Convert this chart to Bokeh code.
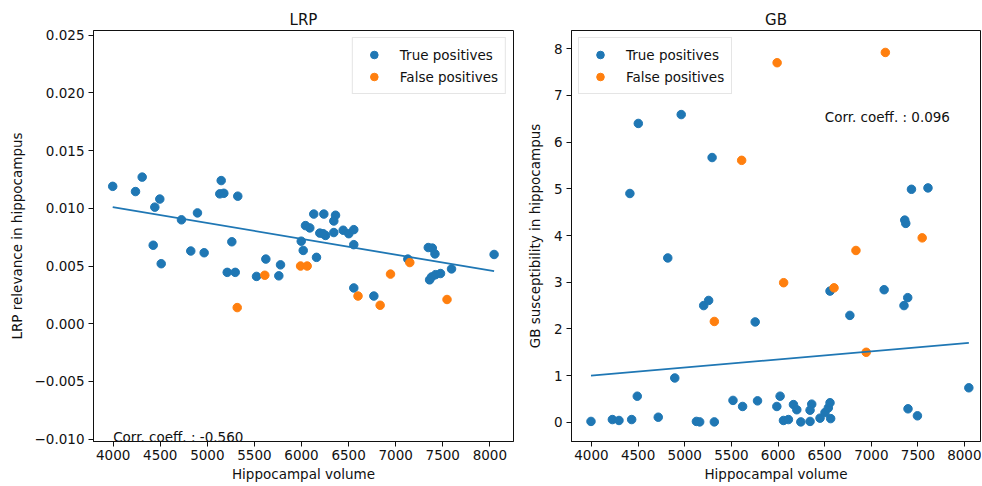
from bokeh.plotting import figure
from bokeh.layouts import row
from bokeh.models import Range1d, FixedTicker, CustomJSTickFormatter
from bokeh.core.properties import value
from bokeh.embed import file_html
from bokeh.resources import INLINE

BLUE = "#1f77b4"
ORANGE = "#ff7f0e"
FONT = "DejaVu Sans"
FS = "13.5px"

# ---------------- data: LRP panel ----------------
lrp_tp_volume = [3995, 4237, 4308, 4495, 4442, 4725, 4895, 4425, 4510, 4824,
                 4966, 5147, 5132, 5175, 5323, 5260, 5211, 5296, 5522, 5621,
                 5759, 5777, 5997, 6018, 6042, 6088, 6130, 6237, 6361, 6343,
                 6194, 6255, 6230, 6343, 6442, 6502, 6555, 6555, 6159, 6555,
                 6768, 7129, 7346, 7389, 7417, 7360, 7381, 7423, 7476, 7593,
                 8045]
lrp_tp_relevance = [0.0119, 0.01145, 0.0127, 0.0108, 0.0101, 0.0090, 0.0096, 0.0068, 0.0052, 0.0063,
                    0.00615, 0.0124, 0.01125, 0.0113, 0.01105, 0.0071, 0.00445, 0.00445, 0.0041, 0.0056,
                    0.00415, 0.0051, 0.00715, 0.00635, 0.0085, 0.0083, 0.0095, 0.0095, 0.0094, 0.0089,
                    0.00785, 0.00765, 0.0078, 0.0079, 0.0081, 0.0078, 0.00815, 0.00685, 0.00575, 0.0031,
                    0.0024, 0.0056, 0.0066, 0.00655, 0.00605, 0.0038, 0.00405, 0.00425, 0.00435, 0.00475,
                    0.0060]
fp_volume = [5317, 5610, 5990, 6060, 6600, 6835, 6945, 7150, 7545]
lrp_fp_relevance = [0.0014, 0.0042, 0.0050, 0.0050, 0.0024, 0.0016, 0.0043, 0.0053, 0.0021]
lrp_fit_volume = [3995, 8045]
lrp_fit_relevance = [0.0101, 0.00455]
lrp_corr = -0.560

# ---------------- data: GB panel ----------------
gb_tp_volume = [3995, 4224, 4295, 4431, 4412, 4502, 4491, 4716, 4818, 4893,
                4962, 5125, 5160, 5203, 5256, 5293, 5317, 5517, 5620, 5755,
                5780, 5987, 6022, 6058, 6111, 6165, 6201, 6244, 6343, 6361,
                6343, 6450, 6503, 6539, 6557, 6564, 6557, 6770, 7137, 7350,
                7390, 7358, 7369, 7430, 7607, 7393, 7494, 8045]
gb_tp_suscept = [0.02, 0.06, 0.04, 0.06, 4.90, 6.40, 0.56, 0.11, 3.52, 0.95,
                 6.59, 0.02, 0.01, 2.50, 2.61, 5.67, 0.01, 0.47, 0.34, 2.15,
                 0.46, 0.34, 0.56, 0.04, 0.06, 0.38, 0.27, 0.01, 0.02, 0.39,
                 0.26, 0.09, 0.21, 0.31, 0.42, 0.08, 2.81, 2.29, 2.84, 2.50,
                 2.67, 4.33, 4.26, 4.99, 5.02, 0.29, 0.14, 0.74]
gb_fp_suscept = [2.16, 5.61, 7.70, 2.99, 2.88, 3.68, 1.50, 7.92, 3.95]
gb_fit_volume = [3995, 8045]
gb_fit_suscept = [1.00, 1.70]
gb_corr = 0.096

x_ticks = [4000, 4500, 5000, 5500, 6000, 6500, 7000, 7500, 8000]
lrp_y_ticks = [-0.010, -0.005, 0.000, 0.005, 0.010, 0.015, 0.020, 0.025]
gb_y_ticks = [0, 1, 2, 3, 4, 5, 6, 7, 8]

HEIGHT = 484


def make_panel(title, ylabel, xr, yr, yticks, width, b_left, b_right, ylab_standoff, fmt_code=None):
    p = figure(width=width, height=HEIGHT, x_range=Range1d(*xr), y_range=Range1d(*yr),
               output_backend="svg", toolbar_location=None, title=title,
               min_border_left=b_left, min_border_right=b_right,
               min_border_top=30, min_border_bottom=43)
    p.background_fill_color = "white"
    p.border_fill_color = "white"
    p.outline_line_color = "#111111"
    p.outline_line_width = 1
    p.xgrid.visible = False
    p.ygrid.visible = False
    p.title.align = "center"
    p.title.text_font = FONT
    p.title.text_font_size = "15px"
    p.title.text_font_style = "normal"
    p.title.text_color = "#111111"
    p.title.standoff = 4
    for ax in (p.xaxis[0], p.yaxis[0]):
        ax.axis_line_color = "#111111"
        ax.major_tick_line_color = "#111111"
        ax.major_tick_out = 5
        ax.major_tick_in = 0
        ax.minor_tick_out = 0
        ax.minor_tick_in = 0
        ax.major_label_text_font = FONT
        ax.major_label_text_font_size = FS
        ax.major_label_text_color = "#111111"
        ax.axis_label_text_font = FONT
        ax.axis_label_text_font_size = FS
        ax.axis_label_text_font_style = "normal"
        ax.axis_label_text_color = "#111111"
    p.xaxis.ticker = FixedTicker(ticks=x_ticks)
    p.yaxis.ticker = FixedTicker(ticks=yticks)
    p.xaxis.axis_label = "Hippocampal volume"
    p.yaxis.axis_label = ylabel
    p.xaxis.major_label_standoff = 3
    p.xaxis.axis_label_standoff = 3
    p.yaxis.major_label_standoff = 4
    p.yaxis.axis_label_standoff = ylab_standoff
    if fmt_code:
        p.yaxis.formatter = CustomJSTickFormatter(code=fmt_code)
    return p


lrp_fmt = """
const v = Math.abs(tick) < 1e-9 ? 0 : tick;
return (v < 0 ? "\u2212" : "") + Math.abs(v).toFixed(3);
"""

p1 = make_panel("LRP", "LRP relevance in hippocampus", (3791, 8251), (-0.0102, 0.0254),
                lrp_y_ticks, 523, 93, 10, 7, lrp_fmt)
p2 = make_panel("GB", "GB susceptibility in hippocampus", (3786, 8170), (-0.41, 8.39),
                gb_y_ticks, 458, 48, 1, 8)


def add_data(p, tp_x, tp_y, fp_x, fp_y, fit_x, fit_y, corr, corr_pos, legend_loc):
    p.scatter(tp_x, tp_y, size=8.5, line_width=1, color=BLUE, legend_label="True positives")
    p.scatter(fp_x, fp_y, size=8.5, line_width=1, color=ORANGE, legend_label="False positives")
    p.line(fit_x, fit_y, line_color=BLUE, line_width=1.8)
    p.text(x=[corr_pos[0]], y=[corr_pos[1]], text=["Corr. coeff. : %.3f" % corr],
           text_font=value(FONT), text_font_size=FS, text_color="#111111",
           text_align="left", text_baseline="alphabetic", y_offset=-2)
    lg = p.legend[0]
    lg.location = legend_loc
    lg.margin = 7
    lg.padding = 7
    lg.spacing = 3
    lg.glyph_width = 28
    lg.glyph_height = 19
    lg.label_standoff = 12
    lg.label_text_font = FONT
    lg.label_text_font_size = FS
    lg.label_text_color = "#111111"
    lg.border_line_color = "#cccccc"
    lg.border_line_width = 1
    lg.background_fill_alpha = 0.8


add_data(p1, lrp_tp_volume, lrp_tp_relevance, fp_volume, lrp_fp_relevance,
         lrp_fit_volume, lrp_fit_relevance, lrp_corr, (4000, -0.010), "top_right")
add_data(p2, gb_tp_volume, gb_tp_suscept, fp_volume, gb_fp_suscept,
         gb_fit_volume, gb_fit_suscept, gb_corr, (6500, 6.5), "top_left")

layout = row(p1, p2)
open("out.html", "w").write(file_html(layout, INLINE))
